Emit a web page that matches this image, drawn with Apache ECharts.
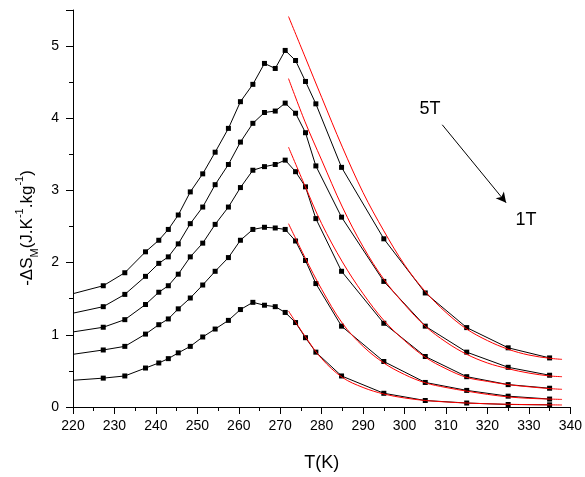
<!DOCTYPE html>
<html>
<head>
<meta charset="utf-8">
<script src="https://cdn.jsdelivr.net/npm/echarts@6/dist/echarts.min.js"></script>
<style>
html,body{margin:0;padding:0;background:#fff;}
#chart{width:585px;height:477px;}
</style>
</head>
<body>
<div id="chart"></div>
<script>
// Measured temperatures (K)
const temps = [227.3, 232.5, 237.5, 240.7, 243, 245.4, 248.3, 251.3, 254.3, 257.5, 260.4, 263.4, 266.2, 268.8, 271.2, 273.7, 276.1, 278.6, 284.8, 295, 305, 315, 325, 335];
// Value where each curve enters at the left edge (T = 220 K)
const edgeT = 220;
const edge5T = 1.57, edge4T = 1.30, edge3T = 1.04, edge2T = 0.73, edge1T = 0.37;
// -ΔS_M data (J/K/kg)
const s5T = [1.68, 1.86, 2.15, 2.31, 2.46, 2.66, 2.98, 3.23, 3.53, 3.86, 4.23, 4.47, 4.76, 4.69, 4.94, 4.80, 4.51, 4.20, 3.32, 2.33, 1.58, 1.10, 0.82, 0.68];
const s4T = [1.39, 1.56, 1.81, 1.99, 2.08, 2.26, 2.54, 2.77, 3.08, 3.36, 3.67, 3.93, 4.08, 4.10, 4.21, 4.07, 3.80, 3.34, 2.63, 1.74, 1.12, 0.76, 0.55, 0.44];
const s3T = [1.105, 1.21, 1.42, 1.59, 1.68, 1.84, 2.08, 2.27, 2.53, 2.77, 3.04, 3.28, 3.33, 3.36, 3.42, 3.26, 3.05, 2.61, 1.88, 1.16, 0.70, 0.42, 0.31, 0.26];
const s2T = [0.79, 0.84, 1.01, 1.14, 1.22, 1.36, 1.51, 1.69, 1.88, 2.07, 2.31, 2.46, 2.49, 2.48, 2.46, 2.30, 2.03, 1.71, 1.12, 0.63, 0.34, 0.23, 0.15, 0.11];
const s1T = [0.40, 0.43, 0.54, 0.61, 0.67, 0.75, 0.84, 0.97, 1.08, 1.20, 1.35, 1.45, 1.41, 1.39, 1.31, 1.17, 0.96, 0.76, 0.43, 0.19, 0.09, 0.055, 0.035, 0.03];
// Red fit curves
const fitT = [272, 276, 280, 285, 290, 295, 300, 305, 310, 315, 320, 325, 330, 335, 338];
const fit5T = [5.41, 4.85, 4.29, 3.60, 2.97, 2.44, 1.97, 1.60, 1.31, 1.08, 0.92, 0.80, 0.72, 0.675, 0.66];
const fit4T = [4.55, 3.95, 3.42, 2.77, 2.22, 1.77, 1.42, 1.12, 0.90, 0.73, 0.61, 0.53, 0.47, 0.43, 0.42];
const fit3T = [3.60, 3.06, 2.54, 2.01, 1.57, 1.20, 0.92, 0.69, 0.53, 0.41, 0.355, 0.31, 0.28, 0.255, 0.245];
const fit2T = [2.54, 2.07, 1.63, 1.16, 0.84, 0.61, 0.45, 0.335, 0.27, 0.22, 0.175, 0.14, 0.12, 0.11, 0.105];
const fit1T = [1.33, 0.98, 0.67, 0.41, 0.27, 0.18, 0.125, 0.09, 0.07, 0.055, 0.045, 0.038, 0.033, 0.03, 0.028];
// Axis ticks
const xMin = 220, xMax = 340, xStep = 10;
const yMin = 0, yMax = 5.5, yStep = 1;
// Annotation (arrow from 5T to 1T), in data coordinates
const arrowStart = [309.1, 3.91], arrowEnd = [324.5, 2.83];

const FONT = '"Liberation Sans", Arial, sans-serif';

function measured(edge, vals) {
  const d = [{ value: [edgeT, edge], symbol: 'none' }];
  temps.forEach((t, i) => d.push([t, vals[i]]));
  return d;
}
function fitted(vals) {
  return fitT.map((t, i) => [t, vals[i]]);
}
function blackSeries(name, edge, vals, extra) {
  return Object.assign({
    name: name, type: 'line', data: measured(edge, vals),
    symbol: 'rect', symbolSize: 5, showAllSymbol: true,
    itemStyle: { color: '#000' },
    lineStyle: { color: '#000', width: 1 },
    emphasis: { disabled: true }, animation: false, z: 2
  }, extra || {});
}
function redSeries(name, vals) {
  return {
    name: name, type: 'line', data: fitted(vals), smooth: 0.35,
    symbol: 'none', lineStyle: { color: '#ff0000', width: 1 },
    emphasis: { disabled: true }, animation: false, z: 3
  };
}

const chart = echarts.init(document.getElementById('chart'), null, { renderer: 'canvas' });
chart.setOption({
  animation: false,
  backgroundColor: '#fff',
  grid: { left: 73, right: 12, top: 10, bottom: 64, containLabel: false },
  xAxis: {
    type: 'value', min: xMin, max: xMax, interval: xStep,
    name: 'T(K)', nameLocation: 'middle', nameGap: 47,
    nameTextStyle: { fontFamily: FONT, fontSize: 18, color: '#000' },
    axisLine: { show: true, lineStyle: { color: '#000', width: 1 } },
    axisTick: { show: true, inside: false, length: 7, lineStyle: { color: '#000' } },
    minorTick: { show: true, splitNumber: 2, length: 4, lineStyle: { color: '#000' } },
    axisLabel: { fontFamily: FONT, fontSize: 14, color: '#000', margin: 12 },
    splitLine: { show: false }
  },
  yAxis: {
    type: 'value', min: yMin, max: yMax, interval: yStep,
    axisLine: { show: true, lineStyle: { color: '#000', width: 1 } },
    axisTick: { show: true, inside: false, length: 7, lineStyle: { color: '#000' } },
    minorTick: { show: true, splitNumber: 2, length: 4, lineStyle: { color: '#000' } },
    axisLabel: { fontFamily: FONT, fontSize: 14, color: '#000', margin: 14, showMaxLabel: false,
      formatter: v => (Math.abs(v - Math.round(v)) < 1e-9 ? String(Math.round(v)) : '') },
    splitLine: { show: false }
  },
  graphic: [
    {
      type: 'text', x: 27, y: 228, rotation: Math.PI / 2,
      style: {
        text: '-ΔS{sub|M}(J.K{sup|-1}.kg{sup|-1})',
        fontFamily: FONT, fontSize: 17, fill: '#000',
        align: 'center', verticalAlign: 'middle',
        rich: {
          sub: { fontFamily: FONT, fontSize: 11, fill: '#000', verticalAlign: 'bottom', lineHeight: 26 },
          sup: { fontFamily: FONT, fontSize: 11, fill: '#000', verticalAlign: 'top', lineHeight: 26 }
        }
      }
    },
    { type: 'text', x: 430, y: 109, style: { text: '5T', fontFamily: FONT, fontSize: 18, fill: '#000', align: 'center', verticalAlign: 'middle' } },
    { type: 'text', x: 526, y: 220, style: { text: '1T', fontFamily: FONT, fontSize: 18, fill: '#000', align: 'center', verticalAlign: 'middle' } }
  ],
  series: [
    blackSeries('5T', edge5T, s5T, {
      markLine: {
        silent: true, symbol: ['none', 'arrow'], symbolSize: [8, 10], animation: false,
        lineStyle: { color: '#000', width: 1, type: 'solid' }, label: { show: false },
        data: [[{ coord: arrowStart }, { coord: arrowEnd }]]
      }
    }),
    blackSeries('4T', edge4T, s4T),
    blackSeries('3T', edge3T, s3T),
    blackSeries('2T', edge2T, s2T),
    blackSeries('1T', edge1T, s1T),
    redSeries('fit 5T', fit5T),
    redSeries('fit 4T', fit4T),
    redSeries('fit 3T', fit3T),
    redSeries('fit 2T', fit2T),
    redSeries('fit 1T', fit1T)
  ]
});
</script>
</body>
</html>
